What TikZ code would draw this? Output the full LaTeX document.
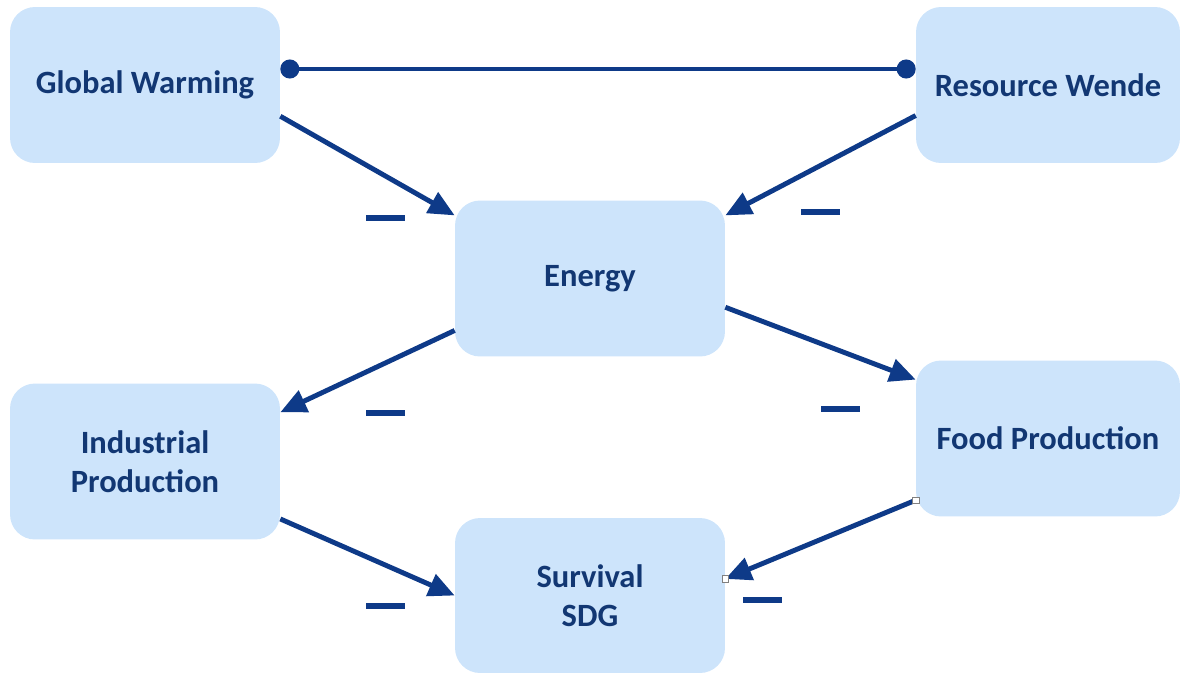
\documentclass[tikz,border=0pt]{standalone}
\usepackage{fontspec}
\setmainfont{Carlito}
\usepackage{tikz}
\usetikzlibrary{arrows.meta}

\definecolor{boxblue}{RGB}{205,228,251}
\definecolor{linkblue}{RGB}{14,58,136}
\definecolor{txtblue}{RGB}{18,55,115}

\begin{document}
\begin{tikzpicture}[x=0.02cm,y=-0.02cm,
    font=\bfseries\fontsize{18.5}{22.5}\selectfont,
    box/.style={fill=boxblue,rounded corners=0.5cm,text=txtblue,
        minimum width=5.4cm,minimum height=3.12cm,align=center,inner sep=0pt},
    link/.style={draw=linkblue,line width=2.8pt,
        -{Triangle[length=0.52cm,width=0.46cm]}},
    minus/.style={fill=linkblue,minimum width=0.78cm,minimum height=0.11cm,
        inner sep=0pt},
    handle/.style={draw=gray,fill=white,line width=0.4pt,
        minimum size=0.13cm,inner sep=0pt}]
    \useasboundingbox (0,0) rectangle (1182,673);

    \node[box] (gw) at (145,85) {Global Warming};
    \node[box,minimum width=5.28cm] (rw) at (1048,85) {Resource Wende};
    \node[box] (en) at (590,278.5) {Energy};
    \node[box] (ip) at (145,461.5) {Industrial\\Production};
    \node[box,minimum width=5.28cm] (fp) at (1048,438.5) {Food Production};
    \node[box,minimum height=3.1cm] (sd) at (590,595.5) {Survival\\SDG};

    % dotted link between the two drivers
    \draw[draw=linkblue,line width=2.8pt,
        {Circle[length=0.38cm]}-{Circle[length=0.38cm]}]
        ([yshift=0.32cm]gw.east) -- ([yshift=0.32cm]rw.west);

    \draw[link] (gw.-13.3) -- (en.155.1);
    \draw[link] (rw.193.5) -- (en.25.2);
    \draw[link] (en.201.5) -- (ip.20.9);
    \draw[link] (en.-12.6) -- (fp.156.6);
    \draw[link] (ip.-23.5) -- (sd.west);
    \draw[link] (fp.205.9) -- (sd.7.3);

    \node[handle] (h1) at (fp.205.9) {};
    \node[handle] (h2) at (sd.7.3) {};

    \node[minus] (m1) at (385.5,218) {};
    \node[minus] (m2) at (820,212) {};
    \node[minus] (m3) at (385.5,413) {};
    \node[minus] (m4) at (840,409) {};
    \node[minus] (m5) at (385.5,606) {};
    \node[minus] (m6) at (762.5,600) {};
\end{tikzpicture}
\end{document}
